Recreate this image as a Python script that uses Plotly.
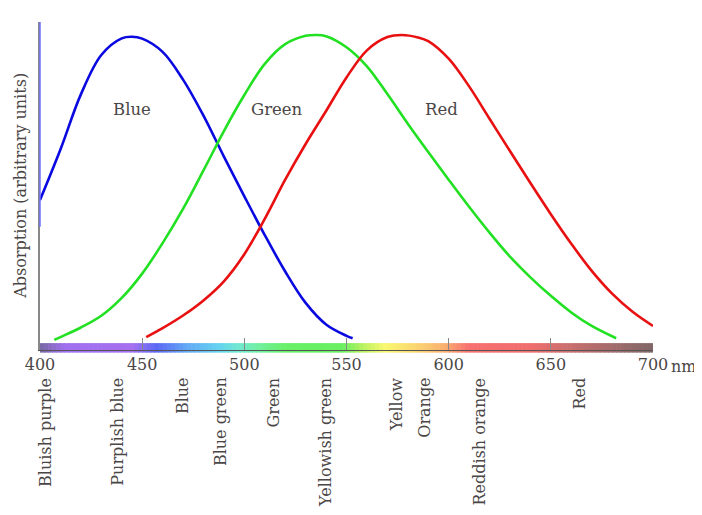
import plotly.graph_objects as go

# ---------------- data ----------------
blue_nm = [400, 410, 420, 430, 440, 445, 450, 460, 470, 480, 490, 500, 510, 520, 530, 540, 550, 553]
blue_abs = [46.4, 62.8, 80.7, 93.5, 98.9, 99.4, 98.8, 94.5, 85.5, 73.8, 60.5, 47.6, 35.0, 23.2, 13.0, 6.0, 2.3, 1.5]

green_nm = [407, 410, 420, 430, 440, 450, 460, 470, 480, 490, 500, 510, 520, 530, 535, 540, 550, 560,
            570, 580, 590, 600, 610, 620, 630, 640, 650, 660, 670, 682]
green_abs = [1.0, 1.9, 5.0, 8.8, 14.6, 22.5, 32.4, 43.5, 56.0, 68.8, 80.5, 90.6, 97.0, 99.7, 100, 99.6,
             96.0, 89.8, 80.8, 71.2, 62.0, 53.0, 44.2, 35.8, 28.0, 21.3, 15.3, 9.9, 5.5, 1.5]

red_nm = [452, 460, 470, 480, 490, 500, 510, 520, 530, 540, 550, 560, 570, 577, 585, 590, 600, 610,
          620, 630, 640, 650, 660, 670, 680, 690, 700]
red_abs = [1.9, 4.8, 8.9, 13.8, 20.0, 28.8, 40.3, 53.0, 64.6, 75.3, 86.2, 95.0, 99.3, 100, 99.2, 98.0,
           92.3, 83.3, 72.8, 62.3, 51.9, 41.8, 32.2, 23.4, 16.0, 10.1, 5.5]

tick_vals = [400, 450, 500, 550, 600, 650, 700]
tick_text = ["400", "450", "500", "550", "600", "650", "700"]

peak_nm = [443.5, 534.5, 580]
peak_labels = ["445 nm", "535 nm", "575 nm"]

curve_label_nm = [445, 516, 596.5]
curve_labels = ["Blue", "Green", "Red"]

band_nm = [402.4, 438.2, 469.5, 488.1, 514.5, 539.4, 574.5, 588.0, 615.3, 664.2]
band_labels = ["Bluish purple", "Purplish blue", "Blue", "Blue green", "Green",
               "Yellowish green", "Yellow", "Orange", "Reddish orange", "Red"]

# spectrum strip colour stops
spec_nm = [400, 412, 445, 457, 472, 487, 497, 507, 520, 548, 558, 569, 586, 598, 610, 640, 660, 700]
spec_rgb = [(118, 102, 160), (160, 112, 240), (166, 112, 240), (92, 104, 245), (100, 170, 245),
            (100, 210, 240), (112, 232, 210), (112, 240, 160), (104, 240, 104), (104, 240, 96),
            (184, 242, 96), (250, 248, 112), (250, 208, 112), (250, 176, 112), (248, 112, 112),
            (240, 110, 110), (200, 110, 110), (128, 104, 104)]

# ---------------- figure ----------------
TXT = "#4a4646"
FONT = "DejaVu Serif"
FS = 16

fig = go.Figure()
fig.add_trace(go.Scatter(x=blue_nm, y=blue_abs, mode="lines", line=dict(color="#0a0ae0", width=2.6, shape="spline"),
                         name="Blue", hoverinfo="skip"))
fig.add_trace(go.Scatter(x=green_nm, y=green_abs, mode="lines", line=dict(color="#22e022", width=2.6, shape="spline"),
                         name="Green", hoverinfo="skip"))
fig.add_trace(go.Scatter(x=red_nm, y=red_abs, mode="lines", line=dict(color="#e81010", width=2.6, shape="spline"),
                         name="Red", hoverinfo="skip"))


def interp_color(w):
    for i in range(len(spec_nm) - 1):
        if spec_nm[i] <= w <= spec_nm[i + 1]:
            t = (w - spec_nm[i]) / (spec_nm[i + 1] - spec_nm[i])
            c = [round(spec_rgb[i][k] + t * (spec_rgb[i + 1][k] - spec_rgb[i][k])) for k in range(3)]
            return "rgb(%d,%d,%d)" % tuple(c)
    return "rgb(%d,%d,%d)" % spec_rgb[-1]


shapes = []
step = 2
w = 400
while w < 700:
    shapes.append(dict(type="rect", xref="x", yref="paper", x0=w, x1=min(w + step + 0.3, 700),
                       y0=-0.008, y1=0.021, fillcolor=interp_color(w + step / 2),
                       line=dict(width=0), layer="below"))
    w += step

# light-blue upper part of the vertical axis
shapes.append(dict(type="line", xref="paper", yref="y", x0=0, x1=0, y0=37.7, y1=104.2,
                   line=dict(color="#7070ff", width=1.5)))

annotations = []
for x, t in zip(peak_nm, peak_labels):
    annotations.append(dict(x=x, y=105.4, xref="x", yref="y", text=t, showarrow=False,
                            font=dict(family=FONT, size=FS, color=TXT), xanchor="center", yanchor="middle"))
for x, t in zip(curve_label_nm, curve_labels):
    annotations.append(dict(x=x, y=75.9, xref="x", yref="y", text=t, showarrow=False,
                            font=dict(family=FONT, size=16.5, color=TXT), xanchor="center", yanchor="middle"))
for x, t in zip(band_nm, band_labels):
    annotations.append(dict(x=x, y=-0.078, xref="x", yref="paper", text=t, showarrow=False, textangle=-90,
                            font=dict(family=FONT, size=FS, color=TXT), xanchor="center", yanchor="top"))
annotations.append(dict(x=700, y=-0.05, xref="x", yref="paper", text="nm", showarrow=False, xshift=16,
                        font=dict(family=FONT, size=FS, color=TXT), xanchor="left", yanchor="middle"))
annotations.append(dict(x=-0.033, y=0.5, xref="paper", yref="paper", text="Absorption (arbitrary units)",
                        showarrow=False, textangle=-90,
                        font=dict(family=FONT, size=FS, color=TXT), xanchor="center", yanchor="middle"))

fig.update_layout(
    width=702, height=515,
    margin=dict(l=32, r=57, t=14, b=173),
    paper_bgcolor="white", plot_bgcolor="white",
    showlegend=False,
    shapes=shapes,
    annotations=annotations,
    xaxis=dict(range=[400, 700], tickvals=tick_vals, ticktext=tick_text, automargin=False,
               showgrid=False, zeroline=False, showline=True, linecolor="#555555", linewidth=1,
               ticks="inside", ticklen=12, tickcolor="#888888", tickwidth=1,
               tickfont=dict(family=FONT, size=FS, color=TXT), fixedrange=True),
    yaxis=dict(range=[-2.3, 104.2], showticklabels=False, ticks="", showgrid=False, zeroline=False,
               automargin=False, showline=True, linecolor="#888888", linewidth=1.5, fixedrange=True),
)

fig.write_html("out.html")
